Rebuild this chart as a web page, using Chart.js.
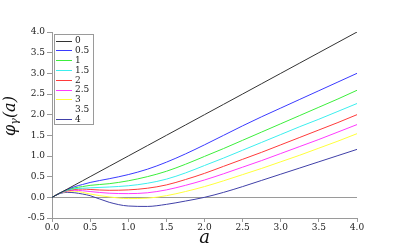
<!DOCTYPE html>
<html>
<head>
<meta charset="utf-8">
<script src="https://cdn.jsdelivr.net/npm/chart.js@4.4.0/dist/chart.umd.min.js"></script>
<style>
  html, body { margin: 0; padding: 0; background: #fff; }
  #wrap { width: 409px; height: 249px; }
</style>
</head>
<body>
<div id="wrap"><canvas id="phi"></canvas></div>
<script>
// a values (x axis)
const aValues = [0, 0.1, 0.2, 0.3, 0.4, 0.5, 0.75, 1.0, 1.25, 1.5, 1.75, 2.0, 2.25, 2.5, 2.75, 3.0, 3.25, 3.5, 3.75, 4.0];

// phi_gamma(a) for each gamma
const gamma0  = [0, 0.10, 0.20, 0.30, 0.40, 0.50, 0.75, 1.00, 1.25, 1.50, 1.75, 2.00, 2.25, 2.50, 2.75, 3.00, 3.25, 3.50, 3.75, 4.00];
const gamma05 = [0, 0.10, 0.19, 0.26, 0.31, 0.36, 0.45, 0.55, 0.68, 0.85, 1.05, 1.27, 1.50, 1.73, 1.95, 2.16, 2.37, 2.58, 2.79, 3.00];
const gamma1  = [0, 0.10, 0.18, 0.23, 0.26, 0.29, 0.33, 0.40, 0.50, 0.63, 0.80, 0.99, 1.18, 1.38, 1.58, 1.78, 1.98, 2.18, 2.38, 2.59];
const gamma15 = [0, 0.10, 0.17, 0.21, 0.22, 0.23, 0.25, 0.28, 0.34, 0.44, 0.59, 0.77, 0.95, 1.14, 1.33, 1.52, 1.71, 1.89, 2.08, 2.27];
const gamma2  = [0, 0.10, 0.16, 0.19, 0.20, 0.19, 0.17, 0.18, 0.22, 0.30, 0.43, 0.58, 0.75, 0.92, 1.09, 1.27, 1.45, 1.63, 1.81, 2.00];
const gamma25 = [0, 0.10, 0.15, 0.17, 0.16, 0.14, 0.10, 0.09, 0.11, 0.18, 0.29, 0.42, 0.57, 0.73, 0.89, 1.06, 1.23, 1.40, 1.58, 1.76];
const gamma3  = [0, 0.10, 0.14, 0.15, 0.12, 0.08, 0.01, -0.03, -0.02, 0.04, 0.14, 0.26, 0.40, 0.55, 0.70, 0.86, 1.02, 1.19, 1.36, 1.54];
const gamma35 = [0, 0.10, 0.13, 0.13, 0.10, 0.06, -0.06, -0.12, -0.12, -0.07, 0.02, 0.13, 0.26, 0.40, 0.55, 0.71, 0.87, 1.03, 1.19, 1.35];
const gamma4  = [0, 0.09, 0.12, 0.11, 0.08, 0.04, -0.12, -0.21, -0.22, -0.17, -0.09, 0.00, 0.12, 0.26, 0.41, 0.56, 0.71, 0.86, 1.01, 1.16];

const seriesNames = ['0', '0.5', '1', '1.5', '2', '2.5', '3', '3.5', '4'];
const seriesValues = [gamma0, gamma05, gamma1, gamma15, gamma2, gamma25, gamma3, gamma35, gamma4];
const seriesColors = ['#333333', '#3a3aff', '#3cee3c', '#3ceeee', '#ff3a3a', '#ff3aff', '#ffff3a', 'rgba(255,255,255,0)', '#4040a8'];

const xTicks = [0, 0.5, 1, 1.5, 2, 2.5, 3, 3.5, 4];

const serif = "'DejaVu Serif', 'Liberation Serif', serif";
const axisGray = '#9a9a9a';

// legend box inside the plot, and axis titles
const overlay = {
  id: 'overlay',
  afterDraw(chart) {
    const ctx = chart.ctx;
    ctx.save();
    // legend
    ctx.fillStyle = '#fff';
    ctx.fillRect(54, 34, 39, 90);
    ctx.strokeStyle = axisGray;
    ctx.lineWidth = 1;
    ctx.strokeRect(54.5, 34.5, 39, 90);
    ctx.font = '9px ' + serif;
    ctx.textBaseline = 'middle';
    chart.data.datasets.forEach((ds, i) => {
      const y = 40.5 + i * 9.8;
      ctx.strokeStyle = ds.borderColor;
      ctx.beginPath();
      ctx.moveTo(56, Math.round(y) + 0.5);
      ctx.lineTo(72, Math.round(y) + 0.5);
      ctx.stroke();
      ctx.fillStyle = '#222';
      ctx.fillText(ds.label, 75, y + 0.5);
    });
    // x title
    ctx.fillStyle = '#111';
    ctx.font = 'italic 18px ' + serif;
    ctx.textAlign = 'center';
    ctx.textBaseline = 'alphabetic';
    ctx.fillText('a', 204.5, 243);
    // y title
    ctx.translate(15, 116);
    ctx.rotate(-Math.PI / 2);
    const big = 'italic 16px ' + serif;
    const small = 'italic 11px ' + serif;
    ctx.font = big;
    const w1 = ctx.measureText('φ').width;
    const w3 = ctx.measureText('(a)').width;
    ctx.font = small;
    const w2 = ctx.measureText('γ').width;
    let x = -(w1 + w2 + w3) / 2;
    ctx.textAlign = 'left';
    ctx.font = big;
    ctx.fillText('φ', x, 0);
    x += w1;
    ctx.font = small;
    ctx.fillText('γ', x, 3);
    x += w2;
    ctx.font = big;
    ctx.fillText('(a)', x, 0);
    ctx.restore();
  }
};

const phiChart = new Chart(document.getElementById('phi').getContext('2d'), {
  type: 'line',
  data: {
    datasets: seriesValues.map((vals, i) => ({
      label: seriesNames[i],
      data: vals.map((v, j) => ({ x: aValues[j], y: v })),
      borderColor: seriesColors[i],
      borderWidth: 1,
      pointRadius: 0,
      fill: false,
      cubicInterpolationMode: 'monotone'
    }))
  },
  options: {
    responsive: true,
    maintainAspectRatio: false,
    animation: false,
    layout: {
      padding: { left: 0, right: 52, top: 32, bottom: 0 }
    },
    scales: {
      x: {
        type: 'linear',
        min: 0,
        max: 4,
        afterFit: (scale) => { scale.height = 31; },
        afterBuildTicks: (scale) => { scale.ticks = xTicks.map(v => ({ value: v })); },
        border: { display: true, color: axisGray, width: 1 },
        grid: { drawOnChartArea: false, drawTicks: true, tickLength: 4, color: axisGray },
        ticks: {
          padding: 0,
          maxRotation: 0,
          color: '#222',
          font: { family: serif, size: 9 },
          callback: (v) => Number(v).toFixed(1)
        }
      },
      y: {
        min: -0.5,
        max: 4,
        afterFit: (scale) => { scale.width = 52; },
        border: { display: true, color: axisGray, width: 1 },
        grid: {
          drawOnChartArea: true,
          drawTicks: true,
          tickLength: 5,
          color: (c) => (c.tick && c.tick.value === 0 ? axisGray : 'rgba(0,0,0,0)'),
          tickColor: axisGray
        },
        ticks: {
          stepSize: 0.5,
          padding: 2,
          color: '#222',
          font: { family: serif, size: 9 },
          callback: (v) => Number(v).toFixed(1)
        }
      }
    },
    plugins: {
      legend: { display: false },
      tooltip: { enabled: false }
    }
  },
  plugins: [overlay]
});
</script>
</body>
</html>
